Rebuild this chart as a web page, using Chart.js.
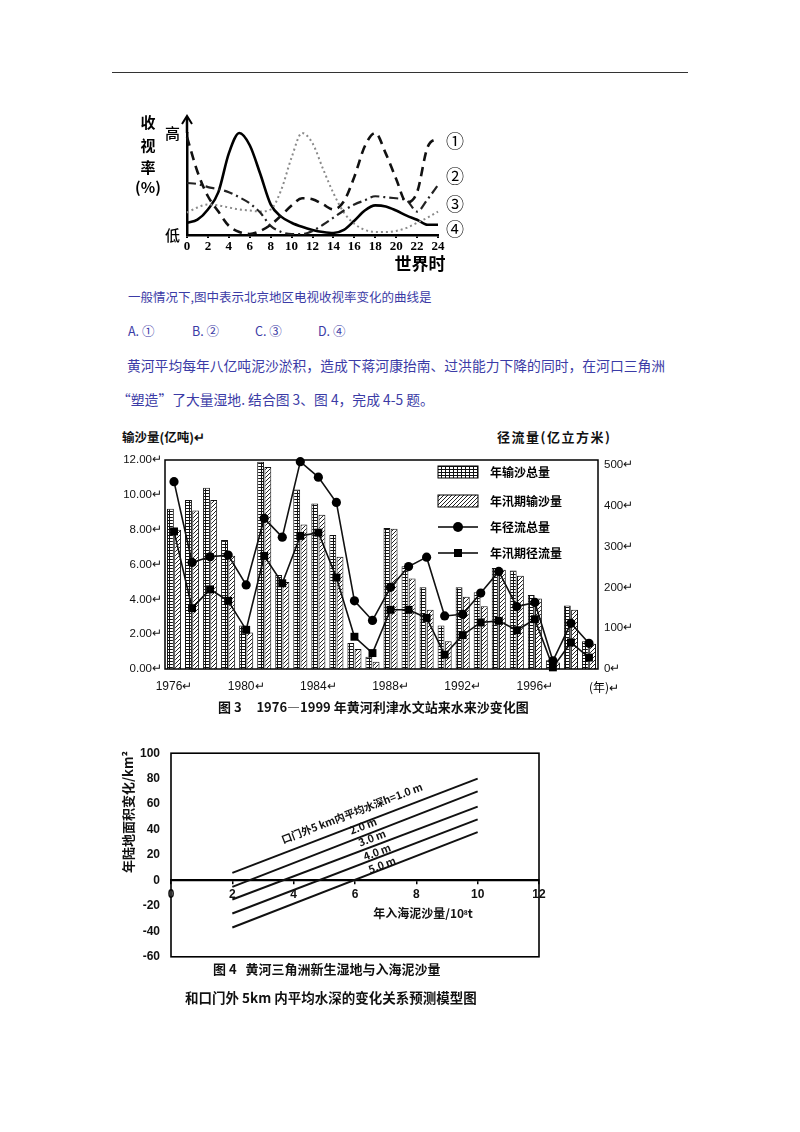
<!DOCTYPE html>
<html lang="zh">
<head>
<meta charset="utf-8">
<title>收视率与黄河来水来沙</title>
<script src="https://cdn.jsdelivr.net/npm/chart.js@4.4.1/dist/chart.umd.min.js"></script>
<style>
html,body{margin:0;padding:0;background:#fff;}
body{width:800px;height:1132px;position:relative;overflow:hidden;font-family:"Noto Sans CJK SC","Noto Sans",sans-serif;}
.t{position:absolute;white-space:nowrap;}
.q{color:#3b3ba6;}
.b{color:#111;font-weight:700;}
.cv{position:absolute;}
</style>
</head>
<body>
<div class="t" style="left:112px;top:72px;width:576px;border-top:1px solid #333;"></div>

<div class="cv" style="left:120px;top:100px;"><canvas id="c1" width="360" height="180"></canvas></div>

<div class="t q" style="left:128px;top:289px;font-size:12.5px;line-height:16px;">一般情况下,图中表示北京地区电视收视率变化的曲线是</div>
<div class="t q" style="left:128px;top:323px;font-size:12.5px;line-height:16px;">A. ①</div>
<div class="t q" style="left:192px;top:323px;font-size:12.5px;line-height:16px;">B. ②</div>
<div class="t q" style="left:255px;top:323px;font-size:12.5px;line-height:16px;">C. ③</div>
<div class="t q" style="left:318px;top:323px;font-size:12.5px;line-height:16px;">D. ④</div>
<div class="t q" style="left:127px;top:356px;font-size:13.8px;line-height:18px;">黄河平均每年八亿吨泥沙淤积，造成下蒋河康抬南、过洪能力下降的同时，在河口三角洲</div>
<div class="t q" style="left:117px;top:390px;font-size:13.8px;line-height:18px;">“塑造”了大量湿地. 结合图 3、图 4，完成 4-5 题。</div>

<div class="t b" style="left:122px;top:429px;font-size:12.5px;line-height:16px;">输沙量(亿吨)↵</div>
<div class="t b" style="left:497px;top:429px;font-size:13px;line-height:16px;letter-spacing:1.5px;">径流量(亿立方米)</div>
<div class="cv" style="left:110px;top:425px;"><canvas id="c2" width="560" height="300"></canvas></div>
<div class="t b" style="left:218px;top:698px;font-size:13px;line-height:17px;">图 3&nbsp;&nbsp;&nbsp;&nbsp;&nbsp;1976—1999 年黄河利津水文站来水来沙变化图</div>

<div class="cv" style="left:100px;top:735px;"><canvas id="c3" width="460" height="240"></canvas></div>
<div class="t b" style="left:213px;top:960px;font-size:13px;line-height:17px;">图 4&nbsp;&nbsp;&nbsp;黄河三角洲新生湿地与入海泥沙量</div>
<div class="t b" style="left:185px;top:988px;font-size:13.5px;line-height:18px;">和口门外 5km 内平均水深的变化关系预测模型图</div>

<script>
// ---------- Chart 1 data: TV ratings by world time ----------
const hours = [0,1,2,3,4,5,6,7,8,9,10,11,12,13,14,15,16,17,18,19,20,21,22,23,24];
const hourTicks = [0,2,4,6,8,10,12,14,16,18,20,22,24];
const curve1 = [96,62,38,23,9,3,1,4,10,19,29,36,35,30,25,33,57,87,100,80,55,32,42,86,95];
const curve2 = [51,50,47,45,42,37,31,22,9,3,1,1,4,10,17,24,30,34,38,37,36,34,23,35,49];
const curve3 = [22,27,30,29,27,25,24,23,25,44,76,100,90,65,41,22,11,5,3,3,4,7,12,17,23];
const curve4 = [12,15,25,42,80,100,88,60,30,18,12,8,5,3,2,5,14,24,29,28,24,19,15,10,10];
const curveLabels = ['①','②','③','④'];

// ---------- Chart 2 data: Lijin station 1976-1999 ----------
const years = ['1976','1977','1978','1979','1980','1981','1982','1983','1984','1985','1986','1987','1988','1989','1990','1991','1992','1993','1994','1995','1996','1997','1998','1999'];
const sedimentTotal = [9.2,9.7,10.4,7.4,2.5,11.9,5.4,10.3,9.5,7.7,1.5,0.7,8.1,5.9,4.7,2.5,4.7,4.4,5.8,5.65,4.25,0.5,3.65,1.6];
const sedimentFlood = [8.0,9.1,9.7,6.5,2.1,11.6,5.0,8.3,8.85,6.45,1.15,0.42,8.05,5.2,3.4,1.6,4.15,3.6,5.7,5.35,4.05,0.38,3.4,1.45];
const runoffTotal = [459,261,275,279,206,369,323,508,470,408,167,119,200,251,274,130,134,186,239,153,163,20,112,63];
const runoffFlood = [337,149,195,167,96,277,210,326,334,224,79,39,145,145,125,35,83,114,118,95,122,4,65,28];
const sedimentTicks = [0,2,4,6,8,10,12];
const runoffTicks = [0,100,200,300,400,500];
const legendNames = ['年输沙总量','年汛期输沙量','年径流总量','年汛期径流量'];

// ---------- Chart 3 data: wetland model ----------
const sandX = [2,10];
const depth1 = [6,80];
const depth2 = [-5,70];
const depth3 = [-15,58];
const depth4 = [-26,48];
const depth5 = [-37,38];
const depthNames = ['口门外5 km内平均水深h=1.0 m','2.0 m','3.0 m','4.0 m','5.0 m'];
const areaTicks = [-60,-40,-20,0,20,40,60,80,100];
const sandTicks = [0,2,4,6,8,10,12];

Chart.defaults.devicePixelRatio = 1;
Chart.defaults.animation = false;
Chart.defaults.color = '#000';

// ================= Chart 1 =================
const pts = arr => hours.map((h,i)=>({x:h,y:arr[i]}));
const c1Decor = {
  id:'c1Decor',
  afterDraw(chart){
    const {ctx, chartArea:a, scales:{x,y}} = chart;
    const x0 = x.getPixelForValue(0);
    ctx.save();
    ctx.strokeStyle='#000';
    ctx.lineWidth=2.5;
    ctx.beginPath(); ctx.moveTo(x0, y.getPixelForValue(100)); ctx.lineTo(x0, a.top-16); ctx.stroke();
    ctx.lineWidth=2;
    ctx.beginPath(); ctx.moveTo(x0-5, a.top-9); ctx.lineTo(x0, a.top-17); ctx.lineTo(x0+5, a.top-9); ctx.stroke();
    ctx.fillStyle='#000'; ctx.textAlign='center'; ctx.textBaseline='middle';
    ctx.font='bold 15px "Noto Sans CJK SC"';
    ctx.fillText('收',28,22); ctx.fillText('视',28,45); ctx.fillText('率',28,67);
    ctx.fillText('(%)',28,87);
    ctx.font='bold 17px "Noto Sans CJK SC"';
    ctx.fillText('世界时',300,164);
    ctx.font='18px "Noto Sans CJK SC"';
    const ly=[41,76,104,129];
    curveLabels.forEach((s,i)=>ctx.fillText(s,335,ly[i]));
    ctx.restore();
  }
};
new Chart(document.getElementById('c1'),{
  type:'line',
  data:{datasets:[
    {label:'①',data:pts(curve1),borderColor:'#111',borderWidth:2.6,borderDash:[9,6],cubicInterpolationMode:'monotone',clip:false},
    {label:'②',data:pts(curve2),borderColor:'#222',borderWidth:2.2,borderDash:[9,4,2,4],cubicInterpolationMode:'monotone',clip:false},
    {label:'③',data:pts(curve3),borderColor:'#8a8a8a',borderWidth:2,borderDash:[2,3],cubicInterpolationMode:'monotone',clip:false},
    {label:'④',data:pts(curve4),borderColor:'#000',borderWidth:2.6,cubicInterpolationMode:'monotone',clip:false}
  ]},
  options:{
    responsive:false,
    layout:{padding:{left:0,right:42,top:33,bottom:25}},
    plugins:{legend:{display:false},tooltip:{enabled:false}},
    elements:{point:{radius:0}},
    scales:{
      x:{type:'linear',min:0,max:24,
        afterBuildTicks:s=>{s.ticks=hourTicks.map(v=>({value:v}));},
        afterFit:s=>{s.height=20;},
        grid:{display:true,drawOnChartArea:false,drawTicks:true,tickLength:3,color:'#000',lineWidth:2},
        border:{display:true,color:'#000',width:2.5},
        ticks:{color:'#000',font:{family:'Liberation Serif',size:13,weight:'bold'},padding:1,maxRotation:0,autoSkip:false}},
      y:{min:0,max:100,
        afterBuildTicks:s=>{s.ticks=[{value:0},{value:100}];},
        afterFit:s=>{s.width=67;},
        grid:{display:false,drawTicks:false},
        border:{display:true,color:'#000',width:2.5},
        ticks:{callback:v=>v===100?'高':'低',color:'#000',font:{family:'Noto Sans CJK SC',size:15,weight:'500'},padding:7}}
    }
  },
  plugins:[c1Decor]
});

// ================= Chart 2 =================
function makePattern(kind){
  const c=document.createElement('canvas');
  const g=c.getContext('2d');
  if(kind==='grid'){
    c.width=4;c.height=3;
    g.fillStyle='#fff';g.fillRect(0,0,4,3);
    g.fillStyle='#111';g.fillRect(0,2,4,1);g.fillRect(3,0,1,3);
  } else {
    c.width=4;c.height=4;
    g.fillStyle='#fff';g.fillRect(0,0,4,4);
    g.fillStyle='#222';
    for(let i=0;i<4;i++){g.fillRect(i,3-i,1,1);}
  }
  return g.createPattern(c,'repeat');
}
const gridPat = makePattern('grid');
const hatchPat = makePattern('hatch');

const c2Decor = {
  id:'c2Decor',
  afterDraw(chart){
    const {ctx, chartArea:a} = chart;
    ctx.save();
    ctx.strokeStyle='#000';ctx.lineWidth=1.5;
    ctx.strokeRect(a.left,a.top,a.right-a.left,a.bottom-a.top);
    // legend
    const bx=328,bw=40,rows=[47,76,102,128];
    ctx.lineWidth=1;
    ctx.fillStyle=gridPat; ctx.fillRect(bx,rows[0]-6,bw,12); ctx.strokeRect(bx,rows[0]-6,bw,12);
    ctx.fillStyle=hatchPat; ctx.fillRect(bx,rows[1]-6,bw,12); ctx.strokeRect(bx,rows[1]-6,bw,12);
    ctx.lineWidth=1.5;
    ctx.beginPath();ctx.moveTo(bx,rows[2]);ctx.lineTo(bx+bw,rows[2]);ctx.stroke();
    ctx.beginPath();ctx.moveTo(bx,rows[3]);ctx.lineTo(bx+bw,rows[3]);ctx.stroke();
    ctx.fillStyle='#000';
    ctx.beginPath();ctx.arc(bx+bw/2,rows[2],5,0,Math.PI*2);ctx.fill();
    ctx.fillRect(bx+bw/2-4,rows[3]-4,8,8);
    ctx.font='bold 12px "Noto Sans CJK SC"';ctx.textBaseline='middle';ctx.textAlign='left';
    legendNames.forEach((s,i)=>ctx.fillText(s,380,rows[i]));
    ctx.font='12px "Noto Sans CJK SC"';ctx.textAlign='center';
    ctx.fillText('(年)↵',494,262);
    ctx.restore();
  }
};
new Chart(document.getElementById('c2'),{
  type:'bar',
  data:{labels:years,datasets:[
    {label:legendNames[0],data:sedimentTotal,yAxisID:'y',backgroundColor:gridPat,borderColor:'#111',borderWidth:1,order:2,categoryPercentage:0.8,barPercentage:0.95},
    {label:legendNames[1],data:sedimentFlood,yAxisID:'y',backgroundColor:hatchPat,borderColor:'#111',borderWidth:1,order:2,categoryPercentage:0.8,barPercentage:0.95},
    {type:'line',label:legendNames[2],data:runoffTotal,yAxisID:'y2',borderColor:'#111',borderWidth:1.6,backgroundColor:'#000',pointStyle:'circle',pointRadius:4.6,pointBorderWidth:0,order:0,tension:0,clip:false},
    {type:'line',label:legendNames[3],data:runoffFlood,yAxisID:'y2',borderColor:'#111',borderWidth:1.6,backgroundColor:'#000',pointStyle:'rect',pointRadius:5.6,pointBorderWidth:0,order:1,tension:0,clip:false}
  ]},
  options:{
    responsive:false,
    layout:{padding:{left:0,right:0,top:35,bottom:0}},
    plugins:{legend:{display:false},tooltip:{enabled:false}},
    scales:{
      x:{afterFit:s=>{s.height=56;},
        grid:{display:false,drawTicks:false},border:{display:false},
        ticks:{autoSkip:false,maxRotation:0,padding:10,color:'#111',font:{family:'Liberation Sans',size:12},
          callback:(v,i)=>(i%4===0 && i<24)?years[i]+'↵':''}},
      y:{position:'left',min:0,max:12,
        afterBuildTicks:s=>{s.ticks=sedimentTicks.map(v=>({value:v}));},
        afterFit:s=>{s.width=55;},
        grid:{display:false,drawTicks:false},border:{display:false},
        ticks:{padding:3,color:'#111',font:{family:'Liberation Sans',size:11.5},callback:v=>v.toFixed(2)+'↵'}},
      y2:{position:'right',min:0,max:512,
        afterBuildTicks:s=>{s.ticks=runoffTicks.map(v=>({value:v}));},
        afterFit:s=>{s.width=72;},
        grid:{display:false,drawTicks:false},border:{display:false},
        ticks:{padding:6,color:'#111',font:{family:'Liberation Sans',size:11.5},callback:v=>v+'↵'}}
    }
  },
  plugins:[c2Decor]
});

// ================= Chart 3 =================
const seg = arr => sandX.map((x,i)=>({x:x,y:arr[i]}));
const c3Decor = {
  id:'c3Decor',
  afterDraw(chart){
    const {ctx, chartArea:a} = chart;
    ctx.save();
    ctx.strokeStyle='#000';ctx.lineWidth=1.6;
    ctx.strokeRect(a.left,a.top,a.right-a.left,a.bottom-a.top);
    ctx.fillStyle='#111';ctx.textAlign='center';ctx.textBaseline='middle';
    // y title
    ctx.save();ctx.translate(28,77);ctx.rotate(-Math.PI/2);
    ctx.font='bold 13px "Noto Sans CJK SC"';ctx.fillText('年陆地面积变化/km²',0,0);ctx.restore();
    // x title
    ctx.font='bold 12px "Noto Sans CJK SC"';ctx.fillText('年入海泥沙量/10⁸t',323,178);
    // line labels
    const pos=[[252,78],[263,91],[272,103],[277,117],[282,130]];
    ctx.font='bold 10.5px "Noto Sans CJK SC"';
    depthNames.forEach((s,i)=>{
      ctx.save();ctx.translate(pos[i][0],pos[i][1]);ctx.rotate(-21*Math.PI/180);
      ctx.fillText(s,0,0);ctx.restore();
    });
    ctx.restore();
  }
};
new Chart(document.getElementById('c3'),{
  type:'line',
  data:{datasets:[depth1,depth2,depth3,depth4,depth5].map((d,i)=>({
    label:depthNames[i],data:seg(d),borderColor:'#111',borderWidth:2,pointRadius:0,tension:0
  }))},
  options:{
    responsive:false,
    layout:{padding:{left:0,right:21,top:10,bottom:17}},
    plugins:{legend:{display:false},tooltip:{enabled:false}},
    scales:{
      x:{type:'linear',min:0,max:12,position:{y:0},
        afterBuildTicks:s=>{s.ticks=sandTicks.map(v=>({value:v}));},
        grid:{display:true,drawOnChartArea:false,drawTicks:true,tickLength:3,color:'#000',lineWidth:1.5},
        border:{display:true,color:'#000',width:2.2},
        ticks:{padding:4,color:'#111',font:{family:'Liberation Sans',size:12,weight:'bold'},maxRotation:0,autoSkip:false}},
      y:{min:-60,max:100,
        afterBuildTicks:s=>{s.ticks=areaTicks.map(v=>({value:v}));},
        afterFit:s=>{s.width=71;},
        grid:{display:false,drawTicks:false},border:{display:false},
        ticks:{padding:11,color:'#111',font:{family:'Liberation Sans',size:12,weight:'bold'}}}
    }
  },
  plugins:[c3Decor]
});
</script>
</body>
</html>
